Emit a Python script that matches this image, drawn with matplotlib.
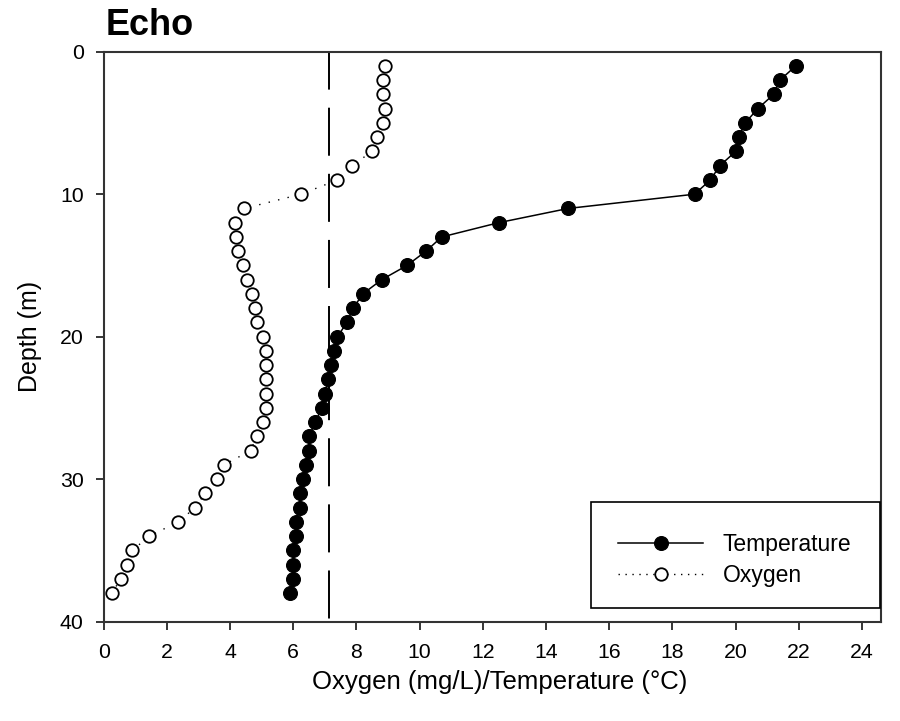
import matplotlib
matplotlib.use("Agg")
import matplotlib.pyplot as plt
from matplotlib.patches import Rectangle
from matplotlib.lines import Line2D

plt.rcParams['font.family'] = ['Liberation Sans', 'DejaVu Sans']

# Profile data (depth in metres)
depth = list(range(1, 39))
temperature = [21.9, 21.4, 21.2, 20.7, 20.3, 20.1, 20.0, 19.5, 19.2, 18.7,
               14.7, 12.5, 10.7, 10.2, 9.6, 8.8, 8.2, 7.9, 7.7, 7.4,
               7.3, 7.2, 7.1, 7.0, 6.9, 6.7, 6.5, 6.5, 6.4, 6.3,
               6.2, 6.2, 6.1, 6.1, 6.0, 6.0, 6.0, 5.9]
oxygen = [8.9, 8.85, 8.85, 8.9, 8.85, 8.65, 8.5, 7.85, 7.4, 6.25,
          4.45, 4.15, 4.2, 4.25, 4.4, 4.55, 4.7, 4.8, 4.85, 5.05,
          5.15, 5.15, 5.15, 5.15, 5.15, 5.05, 4.85, 4.65, 3.8, 3.6,
          3.2, 2.9, 2.35, 1.45, 0.9, 0.75, 0.55, 0.25]
threshold = 7.14

x_ticks = list(range(0, 25, 2))
y_ticks = [0, 10, 20, 30, 40]

fig = plt.figure(figsize=(9.0, 7.21), dpi=100)
ax = fig.add_axes([103.6 / 900, 1 - 621.7 / 721, (881 - 103.6) / 900, (621.7 - 51.7) / 721])

# vertical dashed reference line, drawn bottom to top
ax.plot([threshold, threshold], [40, 0], color='black', lw=1.4,
        linestyle=(32.2, (24.7, 9.3)), zorder=1)

ax.plot(oxygen, depth, color='black', lw=1.0, linestyle=(0, (1, 6)),
        marker='o', ms=9, mfc='white', mec='black', mew=1.3, zorder=3)
ax.plot(temperature, depth, color='black', lw=1.1, linestyle='-',
        marker='o', ms=10, mfc='black', mec='black', mew=0.8, zorder=4)

ax.set_xlim(0, 24.6)
ax.set_ylim(40, 0)
ax.set_xticks(x_ticks)
ax.set_yticks(y_ticks)
ax.tick_params(axis='both', direction='out', length=5.8, width=1.1,
               labelsize=15.3, colors='black')
ax.tick_params(axis='x', pad=9.5)
ax.tick_params(axis='y', pad=8.5)
for sp in ax.spines.values():
    sp.set_linewidth(1.5)
    sp.set_color('#333333')

# legend box
ax.add_patch(Rectangle((0.6276, 0.0235), 0.3709, 0.187, transform=ax.transAxes,
                       fill=False, edgecolor='black', lw=1.2, zorder=5))
handles = [
    Line2D([], [], color='black', lw=1.1, marker='o', ms=10, mfc='black', mec='black', mew=0.8),
    Line2D([], [], color='black', lw=1.0, linestyle=(0, (1, 4)), marker='o', ms=9,
           mfc='white', mec='black', mew=1.3),
]
leg = ax.legend(handles, ['Temperature', 'Oxygen'], loc='upper left',
                bbox_to_anchor=(0.6617, 0.155), frameon=False, borderpad=0,
                borderaxespad=0, handlelength=3.71, handletextpad=0.86,
                labelspacing=0.33, fontsize=16.5, markerscale=1.0, numpoints=1)

fig.text(106 / 900, 1 - 35 / 721, 'Echo', fontsize=26, fontweight='bold',
         ha='left', va='baseline')
fig.text(30 / 900, 1 - 336.7 / 721, 'Depth (m)', rotation=90, fontsize=18,
         ha='center', va='center')
fig.text(500 / 900, 1 - 689 / 721, 'Oxygen (mg/L)/Temperature (°C)', fontsize=18.5,
         ha='center', va='baseline')

fig.savefig('out.png', dpi=100)
